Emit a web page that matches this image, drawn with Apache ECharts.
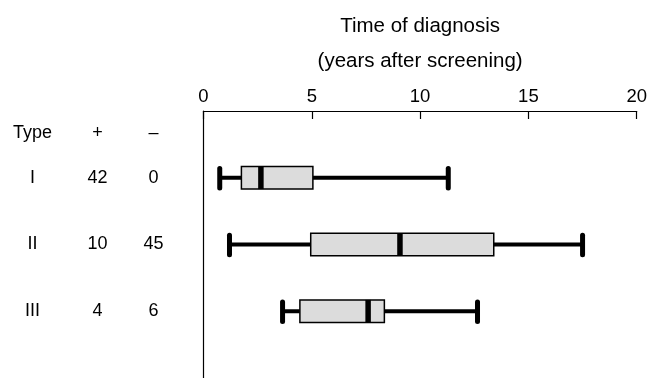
<!DOCTYPE html>
<html>
<head>
<meta charset="utf-8">
<script src="https://cdn.jsdelivr.net/npm/echarts@6/dist/echarts.min.js"></script>
<style>html,body{margin:0;padding:0;background:#fff}#c{width:650px;height:378px}</style>
</head>
<body>
<div id="c"></div>
<script>
const categories = ['I', 'II', 'III'];
const posCounts = [42, 10, 4];
const negCounts = [0, 45, 6];
const whiskerLow = [0.75, 1.2, 3.65];
const q1 = [1.75, 4.95, 4.45];
const median = [2.65, 9.07, 7.6];
const q3 = [5.05, 13.4, 8.35];
const whiskerHigh = [11.3, 17.5, 12.65];
const xTicks = [0, 5, 10, 15, 20];
const headerLabels = ['Type', '+', '\u2013'];
const axisTitle = 'Time of diagnosis\n(years after screening)';

const rowPos = categories.map((c, i) => i + 1);
const headerPos = 0.33;

const data = categories.map((c, i) => [rowPos[i], whiskerLow[i], q1[i], median[i], q3[i], whiskerHigh[i]]);

const FONT = '"Liberation Sans", Arial, Helvetica, sans-serif';

function renderItem(params, api) {
  const y = api.value(0);
  const lo = api.coord([api.value(1), y]);
  const a = api.coord([api.value(2), y]);
  const m = api.coord([api.value(3), y]);
  const b = api.coord([api.value(4), y]);
  const hi = api.coord([api.value(5), y]);
  const h = api.size([0, 0.34])[1];
  const cy = lo[1];
  const top = cy - h / 2, bot = cy + h / 2;
  const lineStyle = { stroke: '#000', lineWidth: 4, lineCap: 'butt' };
  const capStyle = { stroke: '#000', lineWidth: 5, lineCap: 'round' };
  return {
    type: 'group',
    children: [
      { type: 'line', shape: { x1: lo[0], y1: cy, x2: a[0], y2: cy }, style: lineStyle },
      { type: 'line', shape: { x1: b[0], y1: cy, x2: hi[0], y2: cy }, style: lineStyle },
      { type: 'line', shape: { x1: lo[0], y1: top + 2, x2: lo[0], y2: bot - 1 }, style: capStyle },
      { type: 'line', shape: { x1: hi[0], y1: top + 2, x2: hi[0], y2: bot - 1 }, style: capStyle },
      { type: 'rect', shape: { x: a[0], y: top, width: b[0] - a[0], height: h },
        style: { fill: '#dcdcdc', stroke: '#000', lineWidth: 1.5 } },
      { type: 'line', shape: { x1: m[0], y1: top, x2: m[0], y2: bot }, style: { stroke: '#000', lineWidth: 5.5 } }
    ]
  };
}

const chart = echarts.init(document.getElementById('c'), null, { renderer: 'canvas' });
chart.setOption({
  backgroundColor: '#fff',
  animation: false,
  textStyle: { fontFamily: FONT },
  grid: { left: 203.5, right: 10, top: 111, bottom: 0, containLabel: false },
  xAxis: {
    type: 'value',
    position: 'top',
    min: 0, max: 20, interval: 5,
    name: axisTitle,
    nameLocation: 'middle',
    nameGap: 32,
    nameTextStyle: { fontSize: 20.5, color: '#000', lineHeight: 35, fontFamily: FONT },
    axisLine: { show: true, lineStyle: { color: '#000', width: 1.2 } },
    axisTick: { show: true, inside: true, length: 8, lineStyle: { color: '#000', width: 1.2 } },
    axisLabel: { fontSize: 18.5, color: '#000', margin: 5, fontFamily: FONT,
      customValues: xTicks },
    splitLine: { show: false }
  },
  yAxis: {
    type: 'value',
    inverse: true,
    min: 0, max: 4,
    axisLine: { show: true, lineStyle: { color: '#000', width: 1.2 } },
    axisTick: { show: false },
    splitLine: { show: false },
    axisLabel: {
      show: true,
      customValues: [headerPos].concat(rowPos),
      margin: 27,
      formatter: function (v) {
        if (v < 1) return '{a|' + headerLabels[0] + '}{b|' + headerLabels[1] + '}{c|' + headerLabels[2] + '}';
        const i = rowPos.indexOf(v);
        return '{a|' + categories[i] + '}{b|' + posCounts[i] + '}{c|' + negCounts[i] + '}';
      },
      rich: {
        a: { width: 64, align: 'center', fontSize: 18, color: '#000', fontFamily: FONT },
        b: { width: 66, align: 'center', fontSize: 18, color: '#000', fontFamily: FONT },
        c: { width: 46, align: 'center', fontSize: 18, color: '#000', fontFamily: FONT }
      }
    }
  },
  series: [{
    type: 'custom',
    renderItem: renderItem,
    encode: { x: [1, 2, 3, 4, 5], y: 0 },
    data: data,
    clip: false
  }]
});
</script>
</body>
</html>
